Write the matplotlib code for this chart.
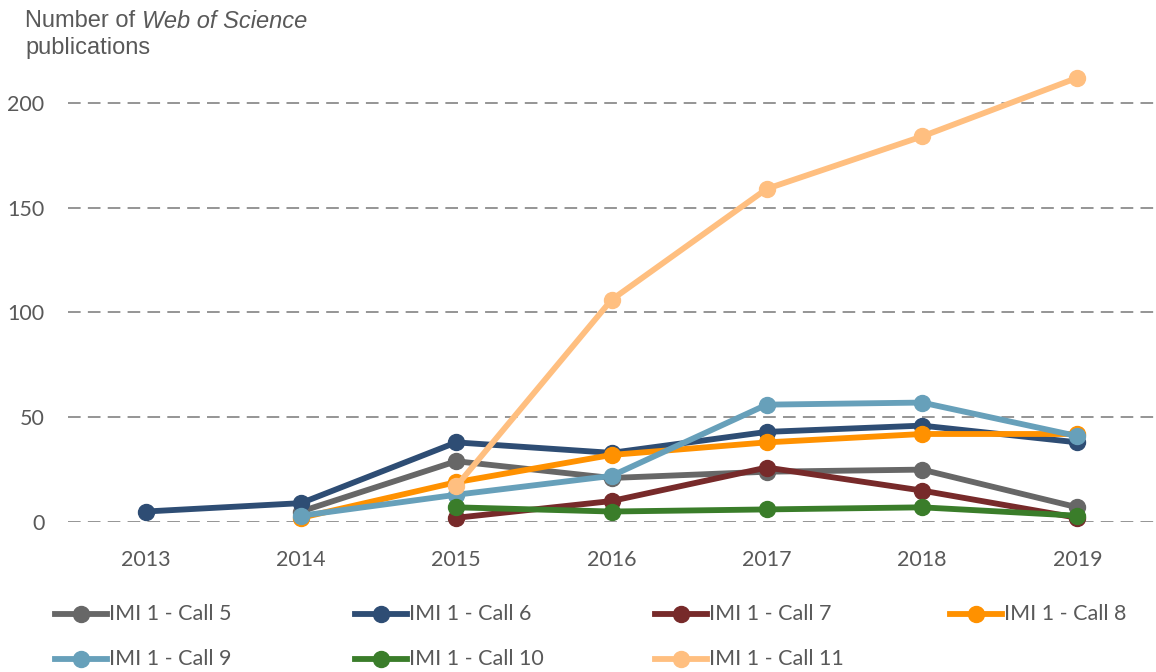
import matplotlib
matplotlib.use("Agg")
import matplotlib.pyplot as plt
from matplotlib.lines import Line2D
import numpy as np

years = ["2013", "2014", "2015", "2016", "2017", "2018", "2019"]
series_names = ["IMI 1 - Call 5", "IMI 1 - Call 6", "IMI 1 - Call 7", "IMI 1 - Call 8",
                "IMI 1 - Call 9", "IMI 1 - Call 10", "IMI 1 - Call 11"]
call5 = [None, 5, 29, 21, 24, 25, 7]
call6 = [5, 9, 38, 33, 43, 46, 38]
call7 = [None, None, 2, 10, 26, 15, 2]
call8 = [None, 2, 19, 32, 38, 42, 42]
call9 = [None, 3, 13, 22, 56, 57, 41]
call10 = [None, None, 7, 5, 6, 7, 3]
call11 = [None, None, 17, 106, 159, 184, 212]
all_series = [call5, call6, call7, call8, call9, call10, call11]
colors = ["#676767", "#2E4D74", "#772A2A", "#FF9100", "#67A0BA", "#3A7D2A", "#FFBF80"]

W, H = 1156, 672
fig = plt.figure(figsize=(W / 100, H / 100), dpi=100)
ax = fig.add_axes([68 / W, 150 / H, (1155 - 68) / W, (522 - 61) / H])

tick_font = "Lato"
grey = "#595959"
LW = 4.2
MS = 11.5

for vals, c, name in zip(all_series, colors, series_names):
    xs = [i for i, v in enumerate(vals) if v is not None]
    ys = [v for v in vals if v is not None]
    ax.plot(xs, ys, color=c, lw=LW, marker="o", markersize=MS, clip_on=False,
            solid_capstyle="round", label=name, zorder=3)

ax.set_xlim(-0.5, 6.5)
ax.set_ylim(0, 220)
ax.set_yticks([0, 50, 100, 150, 200])
ax.set_xticks(range(len(years)))
ax.set_xticklabels(years)
for s in ax.spines.values():
    s.set_visible(False)
ax.tick_params(length=0, labelsize=15.5, labelcolor=grey)
ax.tick_params(axis="y", pad=17)
ax.tick_params(axis="x", pad=20)
for lab in ax.get_xticklabels() + ax.get_yticklabels():
    lab.set_fontfamily(tick_font)
ax.yaxis.grid(True, color="#8C8C8C", linestyle=(0, (7, 4)), lw=1.3)
ax.set_axisbelow(True)

# Title (y-axis label at top-left)
TFS = 17
t1 = fig.text(25 / W, 1 - 21 / H, "Number of ", fontsize=TFS, color=grey,
              family="Liberation Sans", va="center", ha="left")
fig.canvas.draw()
r = fig.canvas.get_renderer()
bb = t1.get_window_extent(renderer=r)
fig.text(bb.x1 / W, 1 - 21 / H, "Web of Science", fontsize=TFS, color=grey,
         family="Liberation Sans", style="italic", va="center", ha="left")
fig.text(25 / W, 1 - 48 / H, "publications", fontsize=TFS, color=grey,
         family="Liberation Sans", va="center", ha="left")

# Legend, placed manually
leg_x = [55, 355, 655, 950]
leg_y = [614, 659]
for i, (name, c) in enumerate(zip(series_names, colors)):
    row, col = divmod(i, 4)
    x0 = leg_x[col]
    y0 = H - leg_y[row]
    fig.add_artist(Line2D([x0 / W, (x0 + 52) / W], [y0 / H, y0 / H], color=c, lw=LW,
                          transform=fig.transFigure))
    fig.add_artist(Line2D([(x0 + 26) / W], [y0 / H], color=c, marker="o", markersize=MS,
                          transform=fig.transFigure))
    fig.text((x0 + 54) / W, y0 / H, name, fontsize=15.5, color=grey, family=tick_font,
             va="center", ha="left")

fig.savefig("out.png", dpi=100)
